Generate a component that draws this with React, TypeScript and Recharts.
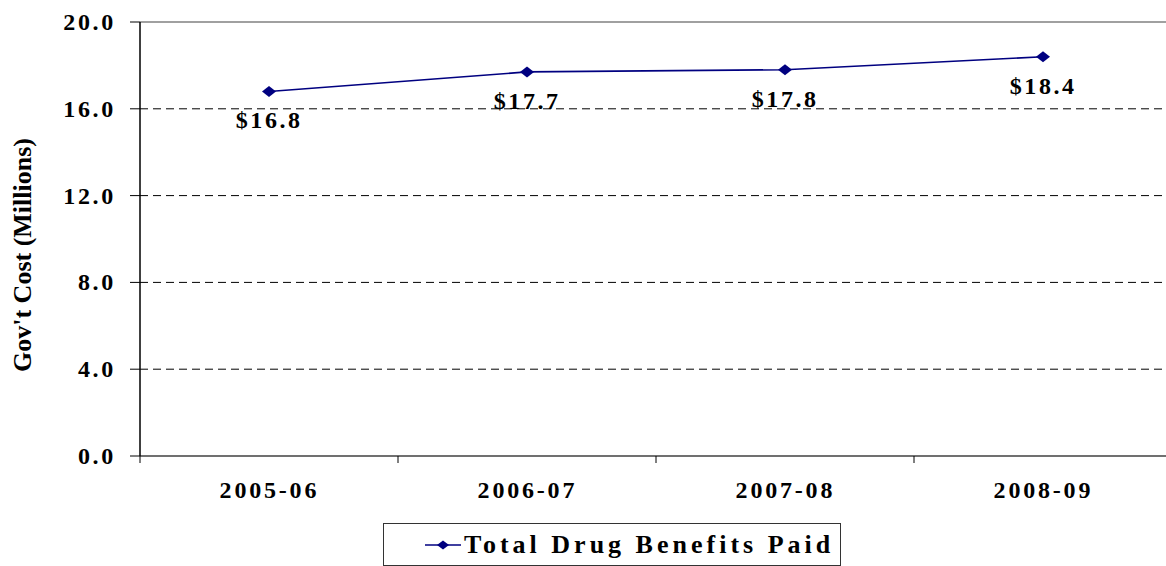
import React from 'react';
import { LineChart, Line, XAxis, YAxis, CartesianGrid, ReferenceLine, LabelList, Label } from 'recharts';

// Fiscal years and cost in $ millions
const YEARS = ['2005-06', '2006-07', '2007-08', '2008-09'];
const COST = [16.8, 17.7, 17.8, 18.4];
const Y_TICKS = [0, 4, 8, 12, 16, 20];
const X_TICKS = [0, 0.5, 1, 1.5, 2, 2.5, 3, 3.5, 4];
const SERIES_NAME = 'Total Drug Benefits Paid';
const Y_TITLE = "Gov't Cost (Millions)";

const FONT = '"Liberation Serif", "Times New Roman", serif';
const NAVY = '#000080';

const data = YEARS.map((year, i) => ({ x: i + 0.5, year, value: COST[i] }));

// Boundary ticks on integers, year labels on halves
const XTick = ({ x, y, payload }: any) => {
  const v = payload.value as number;
  if (Number.isInteger(v)) {
    return <line x1={x} y1={y} x2={x} y2={y + 7} stroke="#000" strokeWidth={1} />;
  }
  const label = YEARS[Math.floor(v)];
  return (
    <text x={x + 0.4} y={y + 42} textAnchor="middle" fontFamily={FONT} fontWeight="bold" fontSize={24} letterSpacing={2.8} fill="#000">
      {label}
    </text>
  );
};

const YTick = ({ x, y, payload }: any) => (
  <text x={x} y={y + 8} textAnchor="end" fontFamily={FONT} fontWeight="bold" fontSize={24} letterSpacing={2.7} fill="#000">
    {(payload.value as number).toFixed(1)}
  </text>
);

const Diamond = ({ cx, cy }: any) => {
  if (cx == null || cy == null) return null;
  return <path d={`M${cx - 7},${cy} L${cx},${cy - 5.5} L${cx + 7},${cy} L${cx},${cy + 5.5} Z`} fill={NAVY} />;
};

const ValueLabel = ({ x, y, value }: any) => (
  <text x={x + 0.2} y={y + 37} textAnchor="middle" fontFamily={FONT} fontWeight="bold" fontSize={24} letterSpacing={2.6} fill="#000">
    {'$' + Number(value).toFixed(1)}
  </text>
);

const YTitle = () => (
  <text transform="translate(31, 255) rotate(-90)" textAnchor="middle" fontFamily={FONT} fontWeight="bold" fontSize={26} fill="#000">
    {Y_TITLE}
  </text>
);

export default function App() {
  return (
    <div style={{ position: 'absolute', left: 0, top: 0, width: 1166, height: 566, overflow: 'hidden', background: '#fff' }}>
      <LineChart width={1180} height={566} data={data} margin={{ top: 22, right: 8, bottom: 0, left: 0 }}>
        <CartesianGrid vertical={false} horizontalValues={[4, 8, 12, 16]} stroke="#000" strokeDasharray="8 5" />
        <ReferenceLine y={20} stroke="#808080" strokeWidth={1.5} />
        <XAxis
          dataKey="x"
          type="number"
          domain={[0, 4]}
          ticks={X_TICKS}
          interval={0}
          height={110}
          tickSize={0}
          tickMargin={0}
          tick={<XTick />}
          axisLine={{ stroke: '#404040', strokeWidth: 1.5 }}
          tickLine={false}
        />
        <YAxis
          type="number"
          domain={[0, 20]}
          ticks={Y_TICKS}
          interval={0}
          width={140}
          tickSize={10}
          tickMargin={14}
          tick={<YTick />}
          axisLine={{ stroke: '#000', strokeWidth: 1.5 }}
          tickLine={{ stroke: '#000' }}
        >
          <Label content={<YTitle />} />
        </YAxis>
        <Line
          type="linear"
          dataKey="value"
          name={SERIES_NAME}
          stroke={NAVY}
          strokeWidth={1.6}
          dot={<Diamond />}
          activeDot={false}
          isAnimationActive={false}
        >
          <LabelList dataKey="value" content={<ValueLabel />} />
        </Line>
      </LineChart>

      <div
        style={{
          position: 'absolute',
          left: 383,
          top: 523,
          width: 456,
          height: 41,
          border: '1px solid #333',
          display: 'flex',
          alignItems: 'center',
          boxSizing: 'content-box',
        }}
      >
        <svg width={36} height={20} style={{ marginLeft: 41 }}>
          <line x1={0} y1={10} x2={36} y2={10} stroke={NAVY} strokeWidth={1.6} />
          <path d="M12,10 L18,5.5 L24,10 L18,14.5 Z" fill={NAVY} />
        </svg>
        <span
          style={{
            marginLeft: 3,
            fontFamily: FONT,
            fontWeight: 'bold',
            fontSize: 26,
            letterSpacing: 4.0,
            whiteSpace: 'nowrap',
            lineHeight: '41px',
          }}
        >
          {SERIES_NAME}
        </span>
      </div>
    </div>
  );
}
